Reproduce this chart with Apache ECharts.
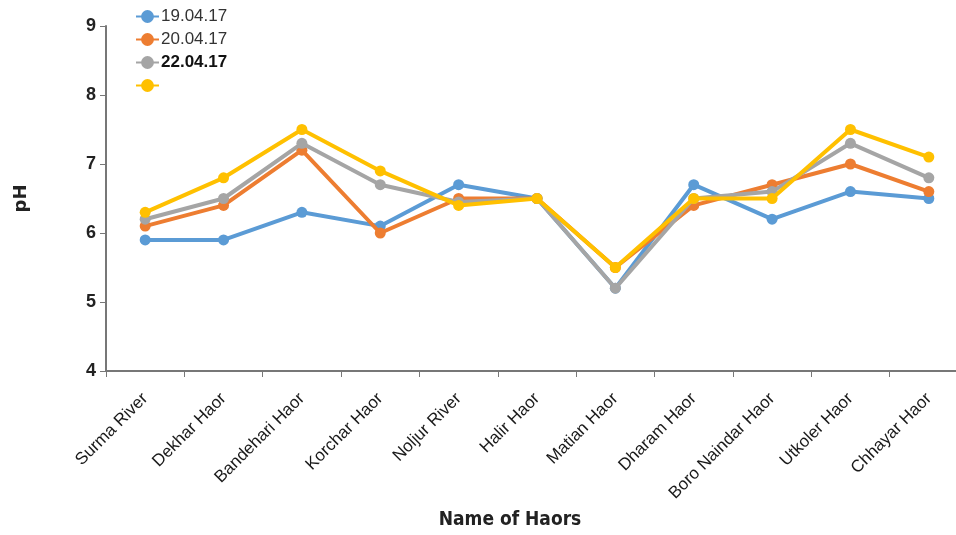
<!DOCTYPE html>
<html><head><meta charset="utf-8">
<script src="https://cdn.jsdelivr.net/npm/echarts@6/dist/echarts.min.js"></script>
<style>html,body{margin:0;padding:0;background:#fff}#c{width:956px;height:535px}</style>
</head><body><div id="c"></div>
<script>
var categories = ["Surma River","Dekhar Haor","Bandehari Haor","Korchar Haor","Noljur River","Halir Haor","Matian Haor","Dharam Haor","Boro Naindar Haor","Utkoler Haor","Chhayar Haor"];
var s19 = [5.9,5.9,6.3,6.1,6.7,6.5,5.2,6.7,6.2,6.6,6.5];
var s20 = [6.1,6.4,7.2,6.0,6.5,6.5,5.5,6.4,6.7,7.0,6.6];
var s22 = [6.2,6.5,7.3,6.7,6.45,6.5,5.2,6.5,6.6,7.3,6.8];
var s4  = [6.3,6.8,7.5,6.9,6.4,6.5,5.5,6.5,6.5,7.5,7.1];
var names = ["19.04.17","20.04.17","22.04.17"," "];
var colors = ["#5B9BD5","#ED7D31","#A5A5A5","#FFC000"];
var yTicks = [4,5,6,7,8,9];

var chart = echarts.init(document.getElementById('c'));
var data = [s19,s20,s22,s4];
var font = 'Liberation Sans, Arial, sans-serif';
chart.setOption({
  animation:false,
  color: colors,
  textStyle:{fontFamily:font},
  legend:{
    orient:'vertical', left:130, top:3, itemGap:6, itemWidth:23, itemHeight:16,
    textStyle:{fontSize:17, color:'#333', fontFamily:font, padding:[0,0,0,-3]},
    data:[
      {name:names[0]},{name:names[1]},
      {name:names[2], textStyle:{fontWeight:'bold', color:'#111'}},
      {name:names[3]}
    ]
  },
  grid:{left:106, width:862, top:26, bottom:164, outerBoundsMode:'none', containLabel:false},
  xAxis:{
    type:'category', data:categories, boundaryGap:true,
    name:'Name of Haors', nameLocation:'middle', nameGap:140,
    nameTextStyle:{fontSize:19, fontWeight:'bold', color:'#222', fontFamily:'DejaVu Sans Condensed, DejaVu Sans, sans-serif', padding:[0,54,0,0]},
    axisLine:{lineStyle:{color:'#777', width:2}},
    axisTick:{show:true, length:6, lineStyle:{color:'#777'}},
    axisLabel:{rotate:45, fontSize:17, color:'#1a1a1a', margin:25, interval:0},
    splitLine:{show:false}
  },
  yAxis:{
    type:'value', min:4, max:9, interval:1,
    name:'pH', nameLocation:'middle', nameGap:76, nameRotate:90,
    nameTextStyle:{fontSize:18, fontWeight:'bold', color:'#222', fontFamily:'DejaVu Sans, sans-serif'},
    axisLine:{show:true, lineStyle:{color:'#777', width:2}},
    axisTick:{show:true, length:6, lineStyle:{color:'#777'}},
    axisLabel:{fontSize:18, fontWeight:'bold', color:'#222', margin:10},
    splitLine:{show:false}
  },
  series: data.map(function(d,i){
    return {name:names[i], type:'line', data:d, symbol:'circle', symbolSize:11,
      lineStyle:{width:4, color:colors[i]}, itemStyle:{color:colors[i]}, z:2+i};
  })
});
</script></body></html>
